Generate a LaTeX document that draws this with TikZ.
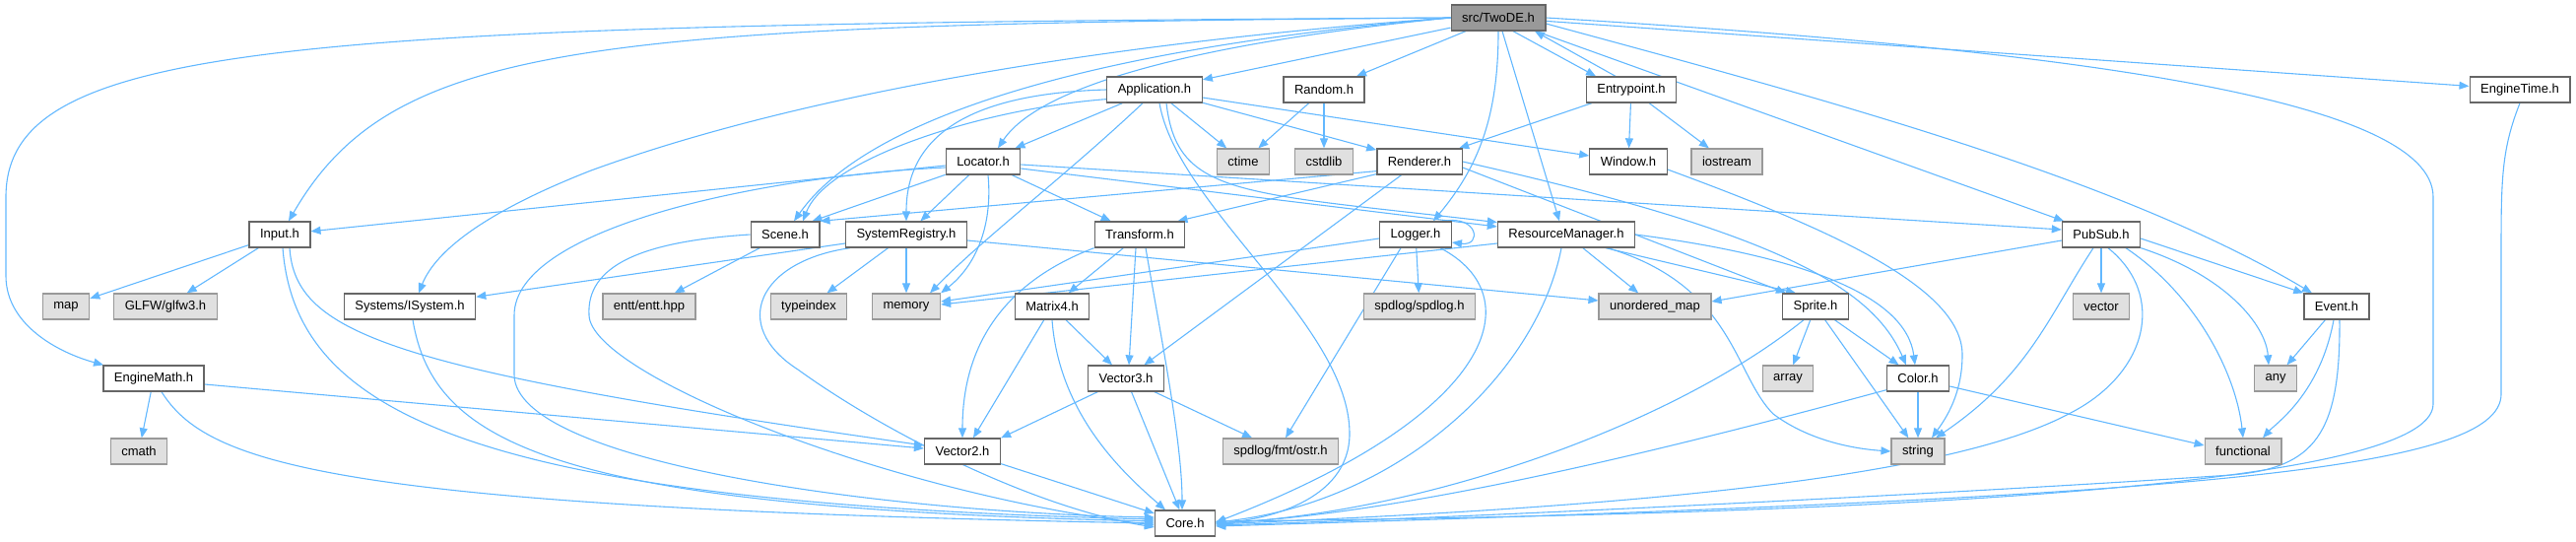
\documentclass[tikz,border=0pt]{standalone}
\usepackage{fontspec}
\setmainfont{Liberation Sans}
\usetikzlibrary{arrows.meta,backgrounds}
\definecolor{edgeblue}{HTML}{63B8FF}
\definecolor{grey40}{HTML}{666666}
\definecolor{grey60}{HTML}{999999}
\definecolor{grey87}{HTML}{E0E0E0}
\tikzset{
  hdr/.style={draw=grey40, fill=white, line width=1.3pt, minimum height=26pt,
    inner xsep=11pt, inner ysep=0pt, font=\fontsize{13pt}{15pt}\selectfont},
  syshdr/.style={hdr, draw=grey60, fill=grey87},
  roothdr/.style={hdr, fill=grey60},
  dep/.style={draw=edgeblue, line width=1.1pt, -{Triangle[length=10pt,width=8pt]}}
}

\begin{document}
\begin{tikzpicture}[x=1pt, y=-1pt]
  \useasboundingbox (0,0) rectangle (2615,549);

  % Row 0
  \node[roothdr] (twode) at (1521,18) {src/TwoDE.h};

  % Row 1
  \node[hdr] (app) at (1172,91) {Application.h};
  \node[hdr] (random) at (1344,91) {Random.h};
  \node[hdr] (entry) at (1656,91) {Entrypoint.h};
  \node[hdr] (enginetime) at (2558,91) {EngineTime.h};

  % Row 2
  \node[hdr] (locator) at (998,164) {Locator.h};
  \node[syshdr] (ctime) at (1262,164) {ctime};
  \node[syshdr] (cstdlib) at (1344,164) {cstdlib};
  \node[hdr] (renderer) at (1441,164) {Renderer.h};
  \node[hdr] (window) at (1653,164) {Window.h};
  \node[syshdr] (iostream) at (1753,164) {iostream};

  % Row 3
  \node[hdr] (input) at (284,238) {Input.h};
  \node[hdr] (scene) at (797,238) {Scene.h};
  \node[hdr] (sysreg) at (920,238) {SystemRegistry.h};
  \node[hdr] (transform) at (1157,238) {Transform.h};
  \node[hdr] (logger) at (1437,238) {Logger.h};
  \node[hdr] (resmgr) at (1590,238) {ResourceManager.h};
  \node[hdr] (pubsub) at (2133,238) {PubSub.h};

  % Row 4
  \node[syshdr] (map) at (67,311) {map};
  \node[syshdr] (glfw) at (168,311) {GLFW/glfw3.h};
  \node[hdr] (isystem) at (416,311) {Systems/ISystem.h};
  \node[syshdr] (entt) at (659,311) {entt/entt.hpp};
  \node[syshdr] (typeindex) at (821,311) {typeindex};
  \node[syshdr] (memory) at (920,311) {memory};
  \node[hdr] (matrix) at (1068,311) {Matrix4.h};
  \node[syshdr] (spdlog) at (1441,311) {spdlog/spdlog.h};
  \node[syshdr] (umap) at (1680,311) {unordered\_map};
  \node[hdr] (sprite) at (1843,311) {Sprite.h};
  \node[syshdr] (vector) at (2133,311) {vector};
  \node[hdr] (event) at (2372,311) {Event.h};

  % Row 5
  \node[hdr] (enginemath) at (156,384) {EngineMath.h};
  \node[hdr] (vecthree) at (1143,384) {Vector3.h};
  \node[syshdr] (array) at (1815,384) {array};
  \node[hdr] (color) at (1947,384) {Color.h};
  \node[syshdr] (any) at (2310,384) {any};

  % Row 6
  \node[syshdr] (cmath) at (141,458) {cmath};
  \node[hdr] (vectwo) at (977,458) {Vector2.h};
  \node[syshdr] (ostr) at (1300,458) {spdlog/fmt/ostr.h};
  \node[syshdr] (str) at (1947,458) {string};
  \node[syshdr] (functional) at (2277,458) {functional};

  % Row 7
  \node[hdr] (core) at (1203,531) {Core.h};

  \begin{scope}[on background layer]
  % TwoDE.h
  \draw[dep] (twode.west) .. controls (300,25) and (6,40) .. (6,200) -- (6,280) .. controls (6,330) and (60,358) .. (enginemath.165);
  \draw[dep] (twode.west) .. controls (600,25) and (400,40) .. ([xshift=9]input.north);
  \draw[dep] (twode.west) .. controls (1100,45) and (800,100) .. (600,173) .. controls (480,220) and (440,260) .. ([xshift=9]isystem.north);
  \draw[dep] (twode.west) .. controls (1100,50) and (880,120) .. ([xshift=9]scene.north);
  \draw[dep] (twode.west) .. controls (1250,40) and (1060,80) .. ([xshift=15]locator.north);
  \draw[dep] (twode) -- (app);
  \draw[dep] (twode) -- (random);
  \draw[dep] ([xshift=15]twode.south) -- ([xshift=-36]entry.north);
  \draw[dep] (twode.south) .. controls (1521,120) and (1500,170) .. ([xshift=18]logger.north);
  \draw[dep] ([xshift=4]twode.south) -- ([xshift=-7]resmgr.north);
  \draw[dep] (twode) -- (pubsub);
  \draw[dep] ([yshift=-6]twode.east) .. controls (1850,100) and (2150,180) .. ([xshift=-25]event.north);
  \draw[dep] (twode) -- (enginetime);
  \draw[dep] (twode.east) .. controls (2100,50) and (2470,100) .. (2470,200) -- (2470,410) .. controls (2470,495) and (1900,522) .. ([yshift=2]core.east);

  % Entrypoint.h
  \draw[dep] ([xshift=-16]entry.north) -- ([xshift=37]twode.south);
  \draw[dep] (entry) -- (renderer);
  \draw[dep] (entry) -- (window);
  \draw[dep] (entry) -- (iostream);

  % Random.h
  \draw[dep] (random) -- (ctime);
  \draw[dep] (random) -- (cstdlib);

  % Application.h
  \draw[dep] (app) -- (ctime);
  \draw[dep] (app) -- (locator);
  \draw[dep] (app.west) .. controls (980,95) and (920,140) .. (sysreg.north);
  \draw[dep] ([yshift=4]app.south west) .. controls (1000,110) and (840,160) .. ([xshift=18]scene.north);
  \draw[dep] ([xshift=-12]app.south) .. controls (1080,180) and (1000,240) .. ([xshift=24]memory.north);
  \draw[dep] ([xshift=5]app.south) .. controls (1195,210) and (1370,330) .. (1370,440) .. controls (1370,510) and (1280,528) .. (core.east);
  \draw[dep] ([xshift=12]app.south) .. controls (1195,200) and (1260,195) .. (resmgr.170);
  \draw[dep] (app) -- (renderer);
  \draw[dep] ([yshift=-8]app.east) -- ([yshift=6]window.west);

  % Locator.h
  \draw[dep] (locator) -- (input);
  \draw[dep] ([yshift=-6]locator.west) .. controls (780,178) and (522,230) .. (522,320) -- (522,380) .. controls (522,470) and (900,520) .. ([yshift=6]core.west);
  \draw[dep] (locator) -- ([xshift=-8]scene.north east);
  \draw[dep] (locator) -- (sysreg);
  \draw[dep] ([xshift=5]locator.south) .. controls (1008,230) and (990,270) .. (memory.north east);
  \draw[dep] (locator) -- (transform);
  \draw[dep] ([yshift=-7]locator.east) -- ([yshift=8]resmgr.west);
  \draw[dep] ([yshift=-3]locator.east) -- ([yshift=5]pubsub.west);

  % Input.h
  \draw[dep] (input) -- (map);
  \draw[dep] (input) -- (glfw);
  \draw[dep] ([xshift=10]input.south) .. controls (300,340) and (400,375) .. ([yshift=6]vectwo.west);
  \draw[dep] ([xshift=3]input.south) .. controls (300,420) and (480,510) .. ([yshift=4]core.west);

  % Systems/ISystem.h
  \draw[dep] ([xshift=3]isystem.south) .. controls (440,450) and (560,515) .. ([yshift=2]core.west);

  % EngineMath.h
  \draw[dep] (enginemath) -- (cmath);
  \draw[dep] ([yshift=-6]enginemath.east) -- ([yshift=3]vectwo.west);
  \draw[dep] ([xshift=8]enginemath.south) .. controls (210,470) and (330,515) .. (core.west);

  % Scene.h
  \draw[dep] (scene) -- (entt);
  \draw[dep] (scene.west) .. controls (650,245) and (595,270) .. (598,320) .. controls (600,380) and (900,500) .. ([yshift=-2]core.west);

  % SystemRegistry.h
  \draw[dep] (sysreg) -- (isystem);
  \draw[dep] (sysreg) -- (typeindex);
  \draw[dep] (sysreg) -- (memory);
  \draw[dep] ([yshift=-6]sysreg.east) -- ([yshift=6]umap.west);
  \draw[dep] ([xshift=5]sysreg.south west) .. controls (770,265) and (740,330) .. (810,375) .. controls (900,440) and (1050,515) .. ([yshift=-4]core.west);

  % Transform.h
  \draw[dep] (transform) -- (matrix);
  \draw[dep] ([xshift=-4]transform.south) -- ([xshift=3]vecthree.north);
  \draw[dep] ([xshift=6]transform.south) .. controls (1180,350) and (1200,450) .. ([xshift=-3]core.north);
  \draw[dep] (transform.south west) .. controls (1010,290) and (977,360) .. (vectwo.north);

  % Matrix4.h
  \draw[dep] (matrix) -- ([xshift=11]vectwo.north);
  \draw[dep] (matrix) -- (vecthree);
  \draw[dep] (matrix.south) .. controls (1075,420) and (1140,480) .. ([xshift=-20]core.north);

  % Vector3.h
  \draw[dep] (vecthree) -- (vectwo.north east);
  \draw[dep] (vecthree) -- (core);
  \draw[dep] (vecthree) -- (ostr);

  % Vector2.h
  \draw[dep] (vectwo) -- (core);

  % Logger.h
  \draw[dep] (logger) -- (spdlog);
  \draw[dep] ([xshift=-15]logger.south) -- ([xshift=5]ostr.north);
  \draw[dep] ([yshift=-4]logger.west) -- ([yshift=5]memory.east);
  \draw[dep] ([xshift=-8]logger.north east) .. controls (1500,218) and (1505,250) .. ([yshift=-8]logger.east);
  \draw[dep] ([xshift=25]logger.south) .. controls (1555,300) and (1520,420) .. ([yshift=1]core.east);

  % ResourceManager.h
  \draw[dep] (resmgr) -- (umap);
  \draw[dep] ([xshift=40]resmgr.south) -- ([xshift=-20]sprite.north);
  \draw[dep] (resmgr.east) .. controls (1830,260) and (1935,300) .. ([xshift=-3]color.north);
  \draw[dep] ([xshift=42]resmgr.south) .. controls (1760,290) and (1760,380) .. (1800,420) .. controls (1840,450) and (1890,456) .. (str.west);
  \draw[dep] ([yshift=-9]resmgr.west) -- ([yshift=2]memory.east);
  \draw[dep] ([xshift=-5]resmgr.south) .. controls (1560,380) and (1420,510) .. ([yshift=1]core.east);

  % Renderer.h
  \draw[dep] ([yshift=4]renderer.south west) -- (scene.north east);
  \draw[dep] ([yshift=1]renderer.south west) -- ([xshift=-8]transform.north east);
  \draw[dep] (renderer) -- (vecthree);
  \draw[dep] ([yshift=-6]renderer.east) -- ([xshift=4]sprite.north west);
  \draw[dep] (renderer.east) .. controls (1800,235) and (1900,290) .. ([xshift=-12]color.north);

  % Sprite.h
  \draw[dep] (sprite) -- (array);
  \draw[dep] (sprite) -- (str);
  \draw[dep] (sprite) -- (color);
  \draw[dep] ([xshift=-12]sprite.south) .. controls (1700,430) and (1450,520) .. (core.east);

  % Color.h
  \draw[dep] (color) -- (str);
  \draw[dep] ([yshift=-8]color.east) -- ([yshift=6]functional.west);
  \draw[dep] (color.200) .. controls (1750,440) and (1450,520) .. (core.east);

  % Window.h
  \draw[dep] ([yshift=-8]window.east) .. controls (1850,230) and (1992,290) .. (1992,360) .. controls (1992,400) and (1975,425) .. ([xshift=14]str.north);

  % PubSub.h
  \draw[dep] ([yshift=-6]pubsub.west) -- ([yshift=5]umap.east);
  \draw[dep] (pubsub) -- (vector);
  \draw[dep] ([xshift=-8]pubsub.south) .. controls (2080,320) and (2060,380) .. ([xshift=18]str.north);
  \draw[dep] ([xshift=7]pubsub.south) .. controls (2200,300) and (2180,380) .. (2100,420) .. controls (1950,500) and (1500,520) .. ([yshift=-1]core.east);
  \draw[dep] ([xshift=25]pubsub.south) .. controls (2230,300) and (2270,380) .. (functional.north);
  \draw[dep] (pubsub.south east) .. controls (2260,280) and (2300,330) .. ([xshift=-7]any.north);
  \draw[dep] ([yshift=-4]pubsub.east) -- (event.north west);

  % Event.h
  \draw[dep] (event) -- (any);
  \draw[dep] ([xshift=-3]event.south) .. controls (2355,400) and (2310,430) .. ([xshift=20]functional.north);
  \draw[dep] ([xshift=3]event.south) .. controls (2376,440) and (2350,475) .. (2265,482) .. controls (2000,500) and (1500,525) .. ([yshift=-2]core.east);

  % EngineTime.h
  \draw[dep] (enginetime.south) .. controls (2540,150) and (2539,180) .. (2539,250) -- (2539,400) .. controls (2539,480) and (2200,505) .. ([yshift=-3]core.east);
  \end{scope}
\end{tikzpicture}
\end{document}
